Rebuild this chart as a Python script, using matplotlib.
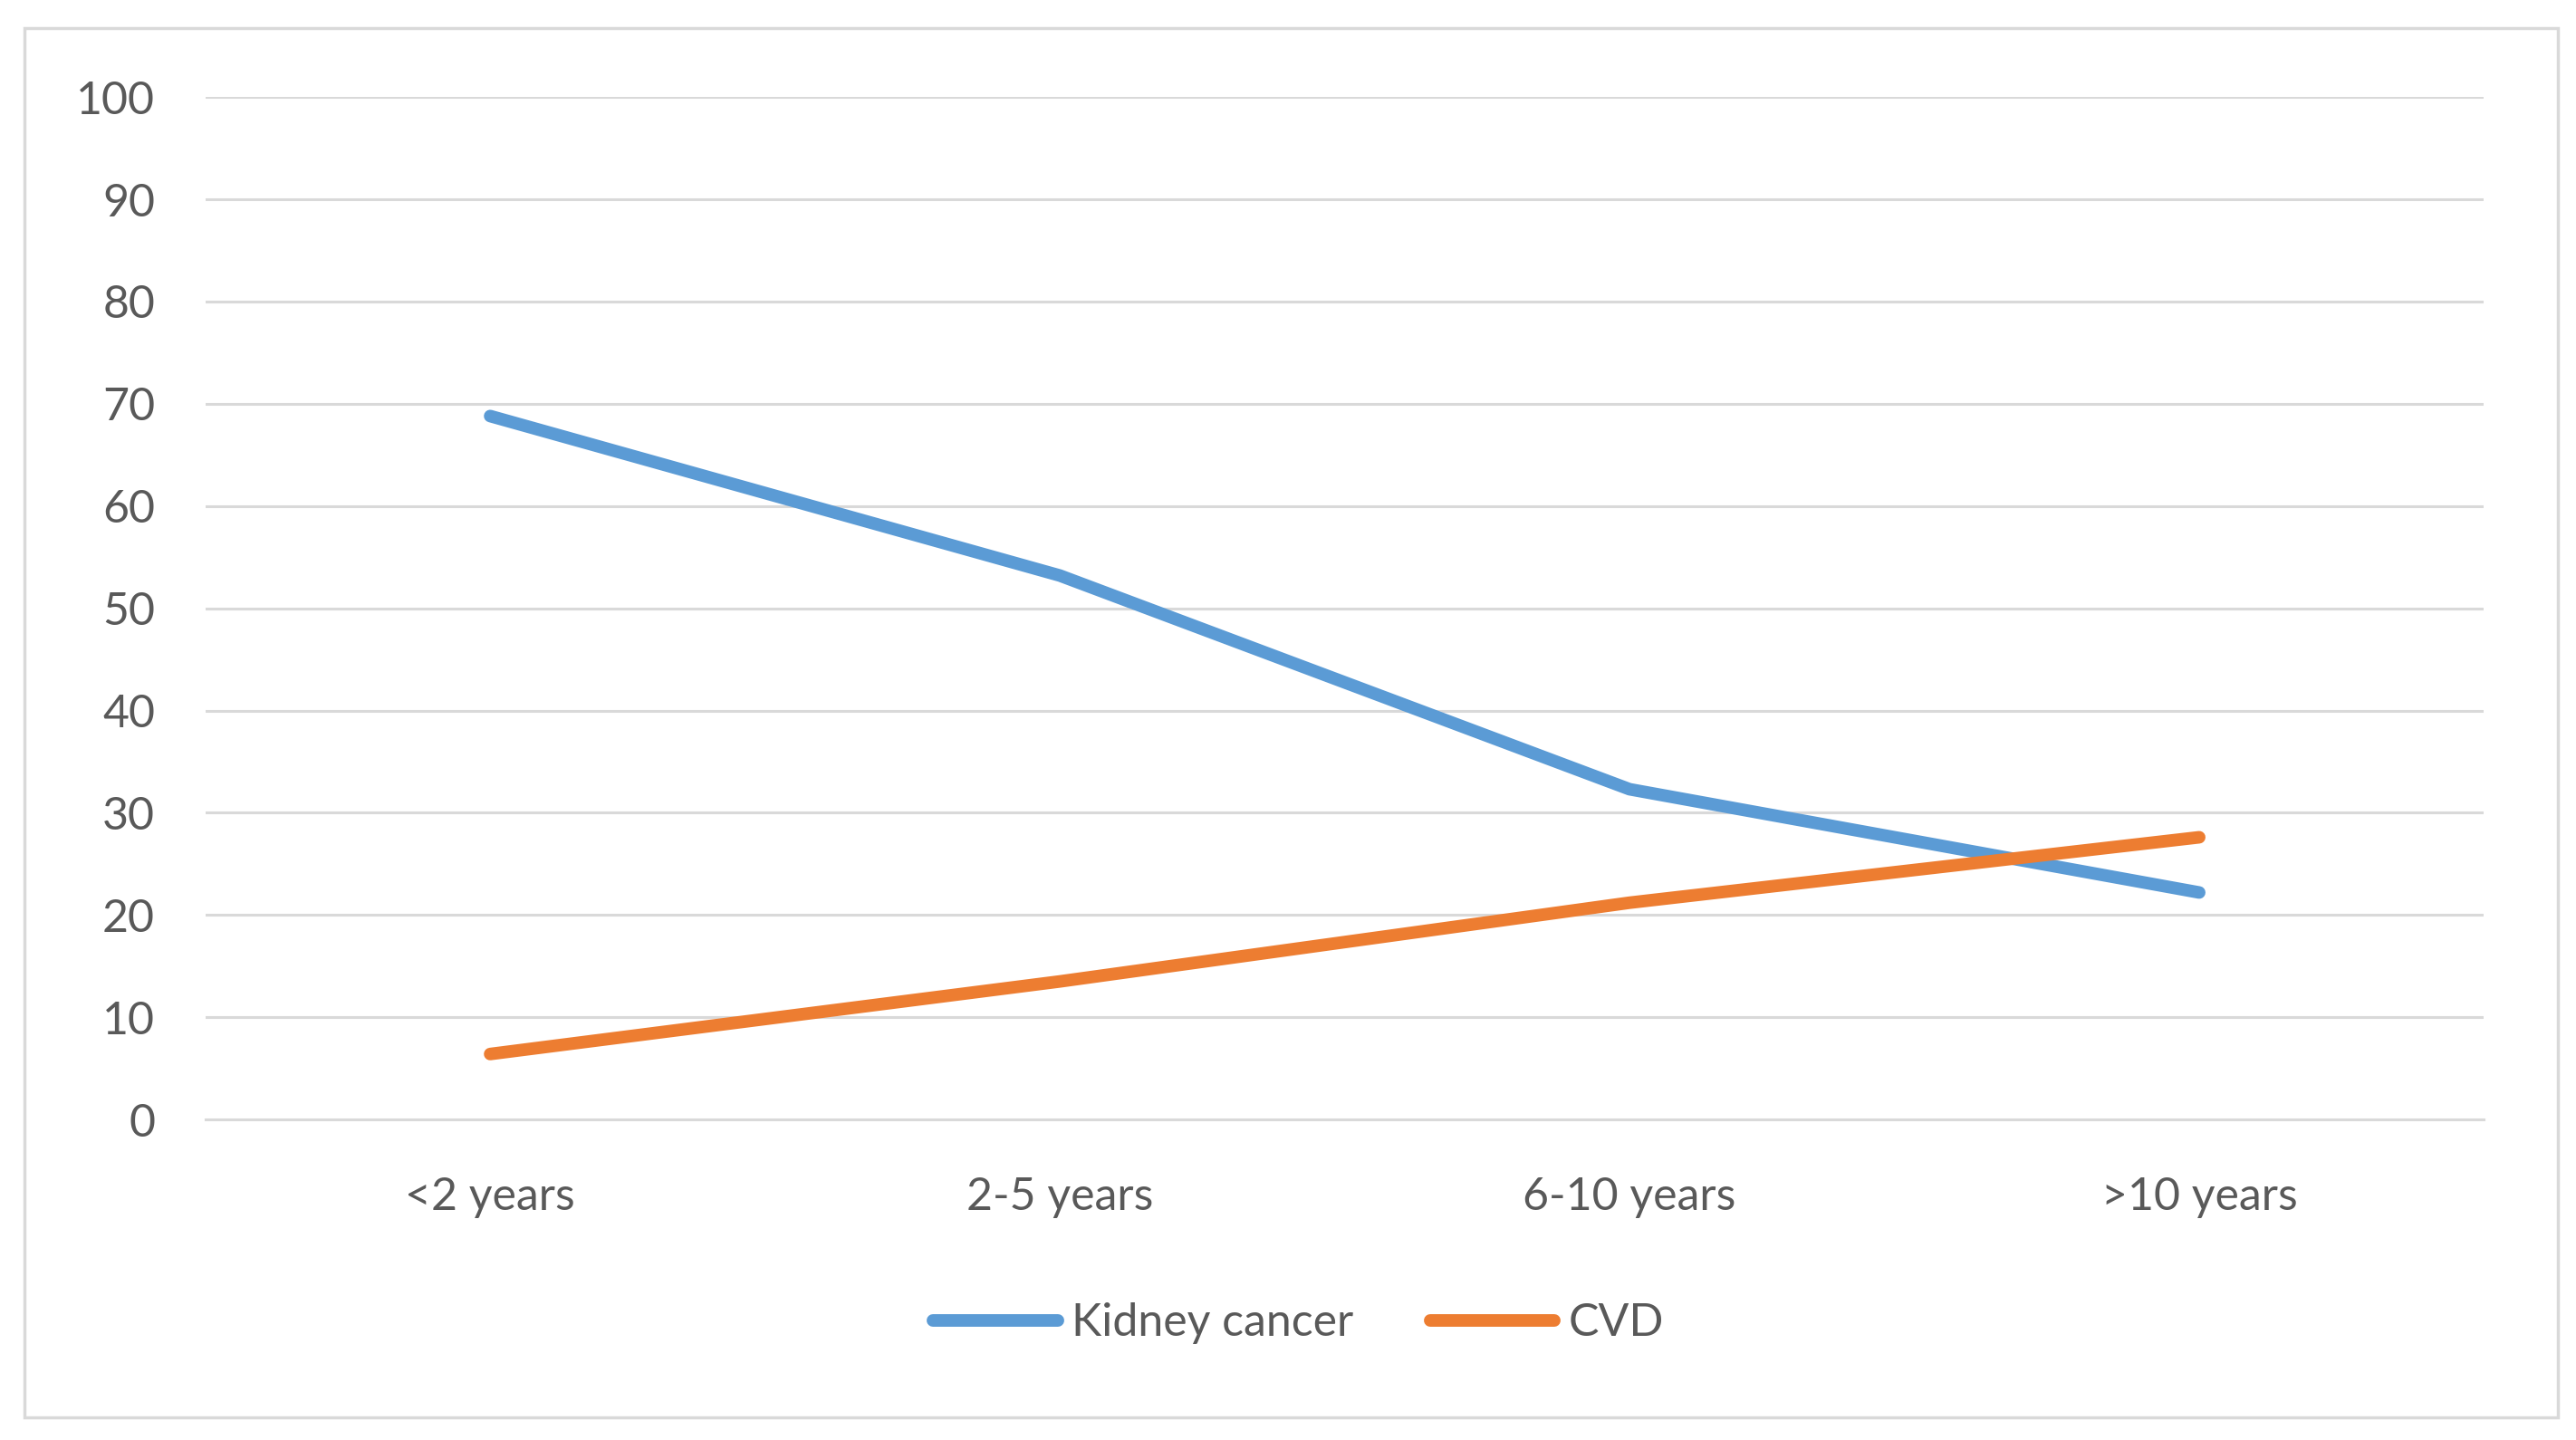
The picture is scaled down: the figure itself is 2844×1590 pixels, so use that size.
import matplotlib.pyplot as plt
from matplotlib.patches import Rectangle

categories = ['<2 years', '2-5 years', '6-10 years', '>10 years']
kidney_cancer = [68.8, 53.2, 32.3, 22.2]
cvd = [6.4, 13.5, 21.2, 27.6]
yticks = [0, 10, 20, 30, 40, 50, 60, 70, 80, 90, 100]

plt.rcParams['font.family'] = ['Lato', 'DejaVu Sans']
txt = '#595959'
grid = '#D9D9D9'

fig = plt.figure(figsize=(28.44, 15.90), dpi=100)
ax = fig.add_axes([0.0797, 0.2226, 0.8846, 0.71])

x = range(len(categories))
ax.plot(x, kidney_cancer, color='#5B9BD5', lw=10, solid_capstyle='round',
        solid_joinstyle='round', label='Kidney cancer', zorder=3)
ax.plot(x, cvd, color='#ED7D31', lw=10, solid_capstyle='round',
        solid_joinstyle='round', label='CVD', zorder=3)

ax.set_xlim(-0.5, 3.5)
ax.set_ylim(0, 100)
ax.set_yticks(yticks)
ax.set_xticks(list(x))
ax.set_xticklabels(categories)
ax.yaxis.grid(True, color=grid, lw=2.2)
ax.set_axisbelow(True)
for s in ['top', 'right', 'left']:
    ax.spines[s].set_visible(False)
ax.spines['bottom'].set_color(grid)
ax.spines['bottom'].set_linewidth(2.2)
ax.tick_params(axis='both', length=0, labelsize=36, labelcolor=txt)
ax.tick_params(axis='y', pad=40)
ax.tick_params(axis='x', pad=45)

fig.legend(loc='center', bbox_to_anchor=(0.504, 0.081), ncol=2, frameon=False,
           fontsize=36, handlelength=2.75, handletextpad=0.3, columnspacing=1.7,
           labelcolor=txt)

fig.patches.append(Rectangle((15/1568, 1-862/876), 1542/1568, 845/876,
                             transform=fig.transFigure, fill=False,
                             edgecolor=grid, lw=2.5))

fig.savefig('out.png', dpi=100, facecolor='white')
